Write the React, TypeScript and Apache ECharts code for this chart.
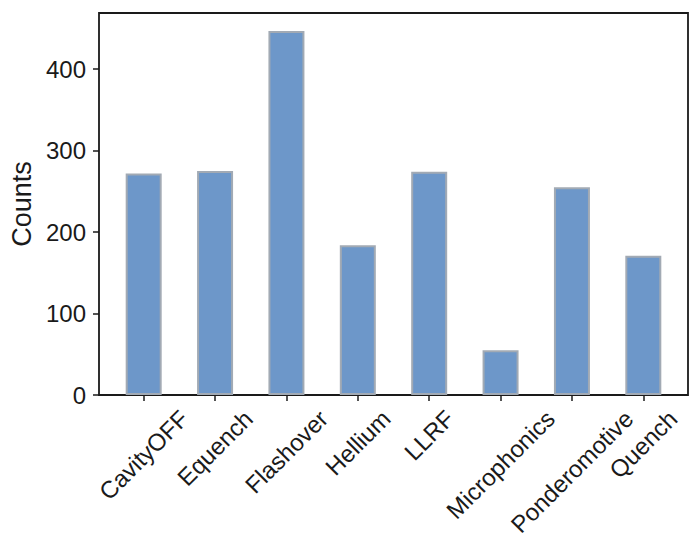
import React, { useEffect, useRef } from "react";
import * as echarts from "echarts";

const categories = [
  "CavityOFF",
  "Equench",
  "Flashover",
  "Hellium",
  "LLRF",
  "Microphonics",
  "Ponderomotive",
  "Quench",
];
const counts = [272, 275, 447, 184, 274, 55, 255, 171];
const yTicks = [0, 100, 200, 300, 400];

const FONT = "'Liberation Sans', Arial, Helvetica, sans-serif";
const X_FONT_SIZE = 24;

function measure(text: string, size: number): number {
  const c = document.createElement("canvas");
  const ctx = c.getContext("2d");
  if (!ctx) return text.length * size * 0.55;
  ctx.font = `${size}px "Liberation Sans"`;
  return ctx.measureText(text).width;
}

export default function App() {
  const ref = useRef<HTMLDivElement>(null);
  useEffect(() => {
    if (!ref.current) return;
    const chart = echarts.init(ref.current, undefined, { renderer: "svg" });

    const rich: Record<string, any> = {};
    categories.forEach((c, i) => {
      const L = measure(c, X_FONT_SIZE);
      const H = X_FONT_SIZE;
      const a = (L + H) / 2;
      rich["l" + i] = {
        fontSize: X_FONT_SIZE,
        fontFamily: FONT,
        color: "#1a1a1a",
        padding: [a, a, 0, 0],
      };
    });

    const yMax = 469;

    chart.setOption({
      animation: false,
      backgroundColor: "#ffffff",
      grid: [
        {
          left: 98,
          right: 12,
          top: 13,
          bottom: 158,
          show: true,
          borderColor: "#1a1a1a",
          borderWidth: 1.8,
          backgroundColor: "transparent",
        },
        { left: 108, right: 21, top: 13, bottom: 158 },
      ],
      xAxis: [
        { gridIndex: 0, type: "value", show: false, min: 0, max: 1 },
        {
          gridIndex: 1,
          type: "category",
          data: categories,
          boundaryGap: true,
          axisLine: { show: false },
          axisTick: {
            show: true,
            alignWithLabel: true,
            length: 6,
            lineStyle: { color: "#1a1a1a", width: 1.5 },
          },
          axisLabel: {
            interval: 0,
            rotate: 45,
            align: "center",
            verticalAlign: "middle",
            margin: 11,
            fontSize: X_FONT_SIZE,
            fontFamily: FONT,
            color: "#1a1a1a",
            formatter: (v: string, i: number) => `{l${i}|${v}}`,
            rich,
          },
          splitLine: { show: false },
        },
      ],
      yAxis: [
        {
          gridIndex: 0,
          type: "value",
          min: 0,
          max: yMax,
          interval: 100,
          name: "Counts",
          nameLocation: "middle",
          nameGap: 64,
          nameTextStyle: { fontSize: 27, fontFamily: FONT, color: "#1a1a1a" },
          axisLine: { show: false },
          axisTick: {
            show: true,
            length: 6,
            lineStyle: { color: "#1a1a1a", width: 1.5 },
            customValues: yTicks,
          },
          axisLabel: {
            fontSize: 24,
            fontFamily: FONT,
            color: "#1a1a1a",
            margin: 13,
            customValues: yTicks,
          },
          splitLine: { show: false },
        },
        { gridIndex: 1, type: "value", min: 0, max: yMax, show: false, splitLine: { show: false } },
      ],
      series: [
        {
          type: "bar",
          xAxisIndex: 1,
          yAxisIndex: 1,
          data: counts,
          barWidth: 36,
          itemStyle: {
            color: "#6d97c9",
            borderColor: "#a2aab4",
            borderWidth: 2,
          },
        },
      ],
    });
    return () => chart.dispose();
  }, []);
  return <div ref={ref} style={{ width: 700, height: 553, margin: -8 }} />;
}
